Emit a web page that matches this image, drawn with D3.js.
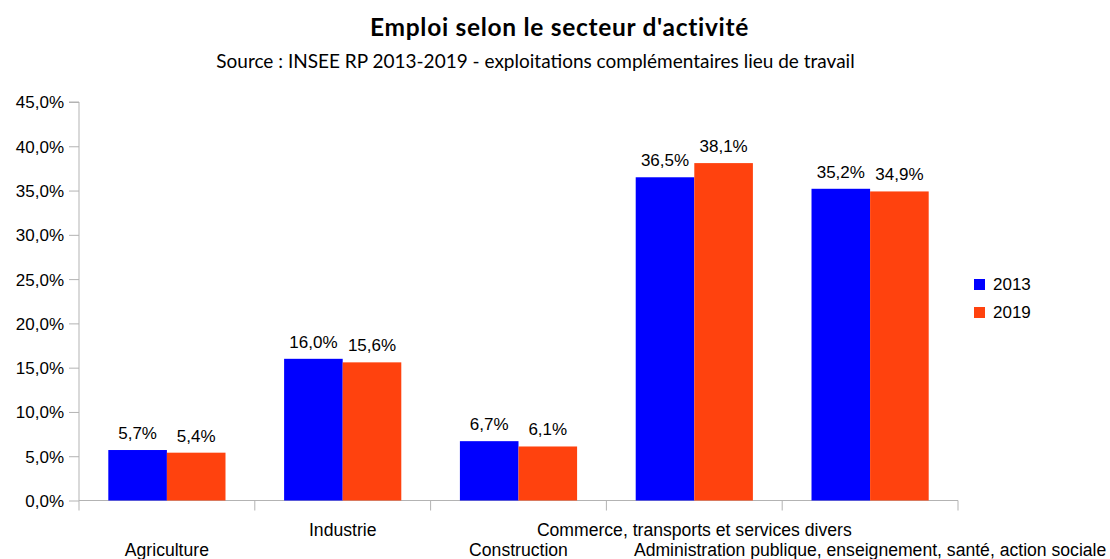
<!DOCTYPE html>
<html><head><meta charset="utf-8">
<script src="https://cdn.jsdelivr.net/npm/d3@7"></script>
<style>body{margin:0;background:#fff}svg{display:block}</style>
</head><body>
<svg id="c" width="1110" height="559"></svg>
<script>
const categories = ["Agriculture","Industrie","Construction","Commerce, transports et services divers","Administration publique, enseignement, santé, action sociale"];
const series = ["2013","2019"];
const values2013 = [5.7,16.0,6.7,36.5,35.2];
const values2019 = [5.4,15.6,6.1,38.1,34.9];
const yTicks = [0,5,10,15,20,25,30,35,40,45];
const colors = ["#0000ff","#ff420e"];

const svg = d3.select("#c");
const L = 79, R = 958, T = 102, B = 500.5;
const x = d3.scaleBand().domain(categories).range([L,R]).padding(0);
const y = d3.scaleLinear().domain([0,45]).range([B,T]);
const bw = x.bandwidth();
const xs = d3.scaleBand().domain(series).range([bw*0.1667, bw*0.8333]).padding(0);
const fmt = v => d3.format(".1f")(v).replace(".",",") + "%";
const font = "'Liberation Sans', Arial, sans-serif";
const grey = "#b3b3b3";

// title
svg.append("text").attr("x",559.5).attr("y",36).attr("text-anchor","middle")
  .attr("font-family","Lato, 'Open Sans', sans-serif").attr("font-weight","bold").attr("font-size",24.5)
  .attr("letter-spacing",0.7)
  .attr("fill","#000").text("Emploi selon le secteur d'activité");
svg.append("text").attr("x",535.5).attr("y",68).attr("text-anchor","middle")
  .attr("font-family","Lato, 'Open Sans', sans-serif").attr("font-size",19)
  .attr("fill","#000").text("Source : INSEE RP 2013-2019 - exploitations complémentaires lieu de travail");

// y axis
const yAxis = d3.axisLeft(y).tickValues(yTicks).tickSize(10).tickFormat(fmt);
const gy = svg.append("g").attr("transform",`translate(${L},0)`).call(yAxis);
gy.select(".domain").attr("stroke",grey).attr("d",`M-10,${T}H0V${B}`);
gy.selectAll(".tick line").attr("stroke",grey);
gy.selectAll(".tick text").attr("font-family",font).attr("font-size",17).attr("fill","#000").attr("x",-15).attr("dy","0.35em");

// x axis
const gx = svg.append("g").attr("transform",`translate(0,${B})`);
gx.append("line").attr("x1",L).attr("x2",R).attr("y1",0).attr("y2",0).attr("stroke",grey);
const bounds = categories.map(c => x(c)).concat([R]);
gx.selectAll("line.tk").data(bounds).join("line").attr("class","tk")
  .attr("x1",d=>d).attr("x2",d=>d).attr("y1",0).attr("y2",10).attr("stroke",grey);
gx.selectAll("text.cat").data(categories).join("text").attr("class","cat")
  .attr("x",d=>x(d)+bw/2).attr("y",(d,i)=> i%2===0 ? 55 : 35)
  .attr("text-anchor","middle").attr("font-family",font).attr("font-size",17.6).attr("fill","#000").text(d=>d);

// bars
const rows = categories.map((c,i)=>({c, vals:[values2013[i],values2019[i]]}));
const groups = svg.append("g").selectAll("g").data(rows).join("g").attr("transform",d=>`translate(${x(d.c)},0)`);
groups.selectAll("rect").data(d=>d.vals.map((v,j)=>({s:series[j],v,j}))).join("rect")
  .attr("x",d=>xs(d.s)).attr("width",xs.bandwidth())
  .attr("y",d=>y(d.v)).attr("height",d=>B-y(d.v)).attr("fill",d=>colors[d.j]);
groups.selectAll("text").data(d=>d.vals.map((v,j)=>({s:series[j],v,j}))).join("text")
  .attr("x",d=>xs(d.s)+xs.bandwidth()/2).attr("y",d=>y(d.v)-11)
  .attr("text-anchor","middle").attr("font-family",font).attr("font-size",17).attr("fill","#000").text(d=>fmt(d.v));

// legend
const lg = svg.append("g").selectAll("g").data(series).join("g").attr("transform",(d,i)=>`translate(974,${279+i*28})`);
lg.append("rect").attr("width",11).attr("height",11).attr("fill",(d,i)=>colors[i]);
lg.append("text").attr("x",19).attr("y",11).attr("font-family",font).attr("font-size",17).attr("fill","#000").text(d=>d);
</script>
</body></html>
